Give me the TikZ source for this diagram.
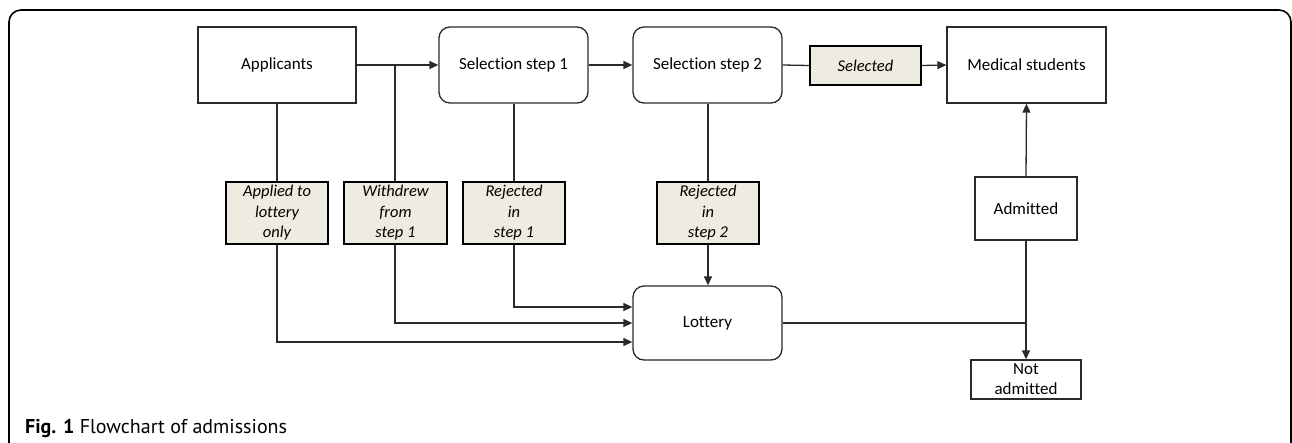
\documentclass[tikz,border=0pt]{standalone}
\usepackage{fontspec}
\setmainfont[Ligatures=NoCommon]{Carlito}
\newfontfamily\capfont{PT Sans}
\usetikzlibrary{arrows.meta}
\definecolor{beige}{HTML}{EEEBE0}
\definecolor{ln}{HTML}{2A2A2A}
\tikzset{
  plainbox/.style={draw=ln, line width=1.3pt, fill=white, minimum width=158pt, minimum height=76pt, inner sep=0pt, font=\fontsize{17}{20}\selectfont},
  roundbox/.style={plainbox, rounded corners=11pt, minimum width=149pt},
  beigebox/.style={draw=black, line width=2pt, fill=beige, minimum width=102pt, minimum height=62pt, inner sep=0pt, align=center, font=\fontsize{16.5}{20.5}\selectfont\itshape},
  conn/.style={draw=ln, line width=1.3pt},
  arr/.style={conn, -{Triangle[length=9pt,width=8pt]}},
}
\begin{document}
\begin{tikzpicture}[x=1pt,y=-1pt]
\useasboundingbox (0,0) rectangle (1292,442);
% frame
\draw[line width=1.6pt, rounded corners=12pt] (9,445) -- (9,10) -- (1291,10) -- (1291,445);
% top row
\node[plainbox] (app) at (277,65) {Applicants};
\node[roundbox] (s1) at (513.5,65) {Selection step 1};
\node[roundbox] (s2) at (707.5,65) {Selection step 2};
\node[beigebox, minimum width=111pt, minimum height=39pt] (sel) at (865.5,65.5) {Selected};
\node[plainbox, minimum width=159pt] (med) at (1026.5,65) {Medical students};
% beige boxes
\node[beigebox] (alo) at (277,213) {Applied to\\lottery\\only};
\node[beigebox, minimum width=103pt] (wd) at (395.5,213) {Withdrew\\from\\step 1};
\node[beigebox] (r1) at (514,213) {Rejected\\in\\step 1};
\node[beigebox] (r2) at (708,213) {Rejected\\in\\step 2};
% lottery and outcomes
\node[roundbox, minimum height=74pt] (lot) at (707.5,323) {Lottery};
\node[plainbox, minimum width=102pt, minimum height=63pt] (adm) at (1026,208.5) {Admitted};
\node[plainbox, minimum width=110pt, minimum height=39pt, align=center] (nad) at (1026,379.5) {Not\\admitted};
\coordinate (br) at (395,65);
\coordinate (jn) at (1026,323);
% connectors
\draw[arr] (app.east) -- (s1.west);
\draw[conn] (br) -- (wd.north -| br);
\draw[conn] (app.south) -- (alo.north);
\draw[arr] (s1.east) -- (s2.west);
\draw[conn] (s2.east) -- (sel.west);
\draw[arr] (sel.east) -- (med.west);
\draw[conn] (s1.south -| r1.north) -- (r1.north);
\draw[conn] (s2.south -| r2.north) -- (r2.north);
\draw[arr] (r2.south) -- (r2.south |- lot.north);
\draw[arr] (alo.south) |- ([yshift=-19pt]lot.west);
\draw[arr] (wd.south -| br) |- (lot.west);
\draw[arr] (r1.south) |- ([yshift=16pt]lot.west);
\draw[conn] (lot.east) -- (jn);
\draw[arr] (adm.north) -- (med.south);
\draw[arr] (adm.south) -- (nad.north);
% caption
\node[anchor=base west, inner sep=0pt, font=\capfont\fontsize{20}{22}\selectfont] (cap) at (25,433) {\textbf{Fig. 1} Flowchart of admissions};
\end{tikzpicture}
\end{document}
